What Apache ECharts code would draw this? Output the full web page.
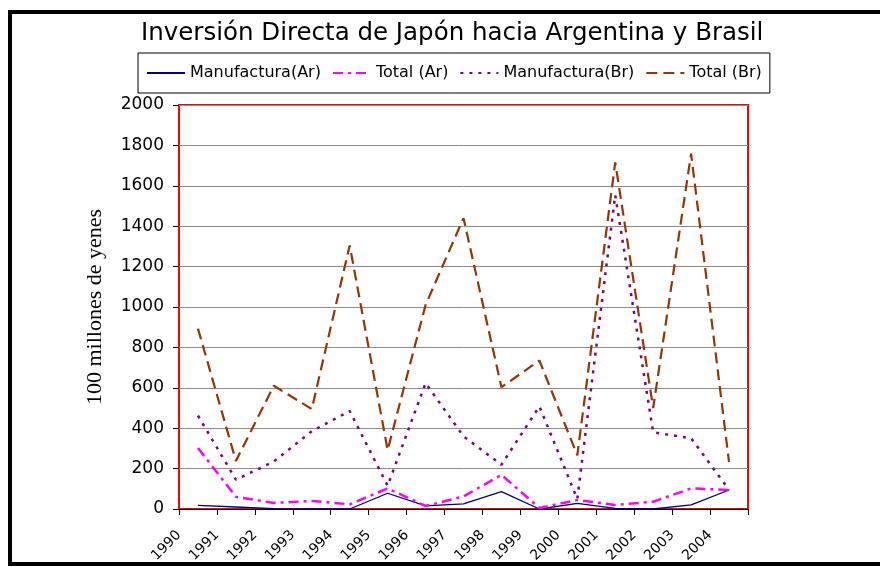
<!DOCTYPE html>
<html>
<head>
<meta charset="utf-8">
<script src="https://cdn.jsdelivr.net/npm/echarts@6/dist/echarts.min.js"></script>
<style>
  html, body { margin: 0; padding: 0; background: #fff; }
  #chart { width: 880px; height: 567px; }
</style>
</head>
<body>
<div id="chart"></div>
<script>
// datos (100 millones de yenes)
const years = ['1990', '1991', '1992', '1993', '1994', '1995', '1996', '1997',
    '1998', '1999', '2000', '2001', '2002', '2003', '2004'];
const manufAr = [18, 10, 2, 0, 0, 78, 15, 25, 86, 0, 28, 3, 0, 20, 94];
const totalAr = [302, 60, 30, 40, 23, 102, 15, 62, 169, 5, 45, 20, 36, 102, 94];
const manufBr = [462, 145, 235, 385, 485, 115, 623, 360, 219, 508, 50, 1554, 380, 350, 95];
const totalBr = [893, 238, 610, 495, 1305, 292, 1010, 1440, 603, 735, 266, 1716, 500, 1759, 232];
const yTicks = { min: 0, max: 2000, step: 200 };

const chart = echarts.init(document.getElementById('chart'), null, { renderer: 'canvas' });

const lineSeries = (name, data, color, width, type) => ({
    name: name,
    type: 'line',
    data: data,
    symbol: 'none',
    xAxisIndex: 0,
    animation: false,
    lineStyle: {
        color: color,
        width: width,
        type: type
    },
    itemStyle: { color: color }
});

chart.setOption({
    backgroundColor: '#fff',
    animation: false,
    title: {
        text: 'Inversión Directa de Japón hacia Argentina y Brasil',
        left: 136,
        top: 16,
        textStyle: {
            fontFamily: 'DejaVu Sans',
            fontSize: 24.5,
            fontWeight: 'normal',
            color: '#000'
        }
    },
    legend: {
        left: 138,
        top: 53,
        width: 700,
        itemWidth: 38,
        itemHeight: 10,
        itemGap: 11,
        padding: [12, 8, 12, 8],
        borderColor: '#000',
        borderWidth: 1,
        itemStyle: { opacity: 0 },
        textStyle: {
            fontFamily: 'DejaVu Sans',
            fontSize: 16,
            color: '#000'
        }
    },
    grid: {
        left: 179,
        top: 105,
        width: 569,
        height: 404,
        show: true,
        borderColor: '#ff0000',
        borderWidth: 2,
        backgroundColor: '#fff'
    },
    xAxis: [{
        type: 'category',
        data: years,
        boundaryGap: true,
        axisLine: { show: false },
        axisTick: { show: false },
        axisLabel: { show: false },
        splitLine: { show: false }
    }, {
        // eje solo para las etiquetas entre categorias
        type: 'value',
        position: 'bottom',
        min: 0,
        max: years.length,
        interval: 1,
        axisLine: { show: true, lineStyle: { color: '#000', width: 1 } },
        axisTick: { show: true, length: 6, lineStyle: { color: '#000' } },
        splitLine: { show: false },
        axisLabel: {
            rotate: 45,
            margin: 24,
            fontFamily: 'DejaVu Sans',
            fontSize: 14,
            color: '#000',
            formatter: v => (v < years.length ? years[v] : '')
        }
    }],
    yAxis: {
        type: 'value',
        min: yTicks.min,
        max: yTicks.max,
        interval: yTicks.step,
        name: '100 millones de yenes',
        nameLocation: 'middle',
        nameRotate: 90,
        nameGap: 73,
        nameTextStyle: {
            fontFamily: 'Liberation Serif',
            fontSize: 22,
            color: '#000'
        },
        axisLine: { show: false },
        axisTick: { show: true, length: 6, lineStyle: { color: '#000' } },
        axisLabel: {
            margin: 15,
            fontFamily: 'DejaVu Sans',
            fontSize: 17,
            color: '#000',
            formatter: v => String(v)
        },
        splitLine: { lineStyle: { color: '#8c8c8c', width: 1 } }
    },
    series: [
        lineSeries('Manufactura(Ar)', manufAr, '#000080', 1.3, 'solid'),
        lineSeries('Total (Ar)', totalAr, '#ff00ff', 2.5, [10, 5, 3, 5]),
        lineSeries('Manufactura(Br)', manufBr, '#800080', 2.5, [3, 6]),
        lineSeries('Total (Br)', totalBr, '#993300', 2.2, [11, 6])
    ],
    graphic: [{
        type: 'rect',
        shape: { x: 10, y: 12, width: 890, height: 552 },
        style: { fill: 'none', stroke: '#000', lineWidth: 4 },
        silent: true,
        z: 100
    }]
});
</script>
</body>
</html>
